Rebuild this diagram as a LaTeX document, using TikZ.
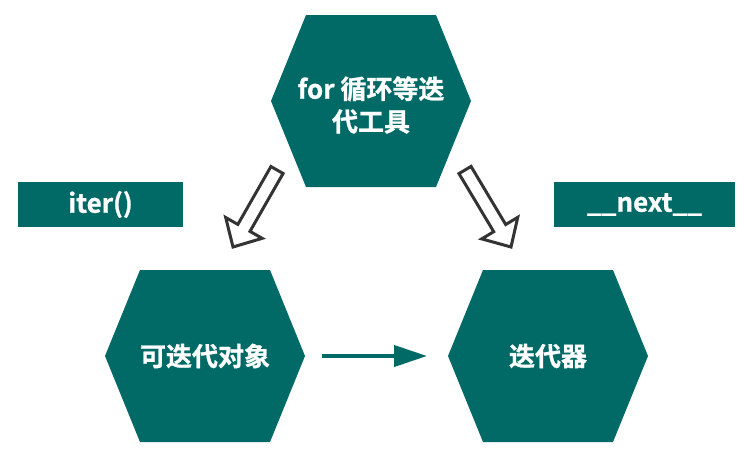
\documentclass[tikz,border=0pt]{standalone}
\usepackage{fontspec}
\setmainfont{Noto Sans CJK SC}[BoldFont={Noto Sans CJK SC Bold},BoldFeatures={FakeBold=1}]
\usetikzlibrary{arrows.meta,calc}
\definecolor{hexcol}{HTML}{016A66}
\definecolor{arrgray}{HTML}{333333}
\tikzset{
  hexnode/.style={shape=rectangle, draw=none, inner sep=0pt, outer sep=0pt,
    minimum width=200pt, minimum height=172pt, text=white,
    font=\bfseries\fontsize{26}{32}\selectfont, align=center,
    path picture={\fill[hexcol] (path picture bounding box.west)
      -- ([xshift=35pt]path picture bounding box.north west)
      -- ([xshift=-35pt]path picture bounding box.north east)
      -- (path picture bounding box.east)
      -- ([xshift=-35pt]path picture bounding box.south east)
      -- ([xshift=35pt]path picture bounding box.south west) -- cycle;}},
  hextext/.style={text=white, inner sep=0pt, align=center,
    font=\bfseries\fontsize{26}{32}\selectfont},
  labelbox/.style={shape=rectangle, fill=hexcol, text=white, inner sep=0pt,
    minimum height=45pt, font=\bfseries\fontsize{26}{28}\selectfont},
  flowarrow/.style={draw=hexcol, line width=4pt, -{Triangle[length=33pt,width=21pt]}},
  hollowarrow/.style={draw=arrgray, fill=white, line width=3pt, line join=miter},
}
\newcommand\hollowarr[2]{%
  \coordinate (hh) at ($(#2)!22pt!(#1)$);
  \path[hollowarrow] ($(#1)!7pt!90:(#2)$) -- ($(hh)!7pt!90:(#2)$) -- ($(hh)!21pt!90:(#2)$)
    -- (#2) -- ($(hh)!21pt!-90:(#2)$) -- ($(hh)!7pt!-90:(#2)$) -- ($(#1)!7pt!-90:(#2)$) -- cycle;}
\begin{document}
\begin{tikzpicture}[x=1pt,y=-1pt]
\useasboundingbox (0,0) rectangle (746,455);
\node[hexnode] (tool) at (371,101) {};
\node[hextext] (tooltext) at (371,105) {\shortstack{for 循环等迭\\[5pt]代工具}};
\node[hexnode] (iterable) at (205,356) {可迭代对象};
\node[hexnode] (iterator) at (548,356) {迭代器};
\node[labelbox, minimum width=165pt] (iter) at (100.5,204.5) {iter()};
\node[labelbox, minimum width=181pt] (next) at (644.5,204.5) {\_\_next\_\_};
\draw[flowarrow] ($(iterable.east)+(17,0)$) -- ($(iterator.west)+(-21,0)$);
\coordinate (la) at (277,170);
\coordinate (lb) at (233,247);
\coordinate (ra) at (465,170);
\coordinate (rb) at (511,247);
\hollowarr{la}{lb}
\hollowarr{ra}{rb}
\end{tikzpicture}
\end{document}
